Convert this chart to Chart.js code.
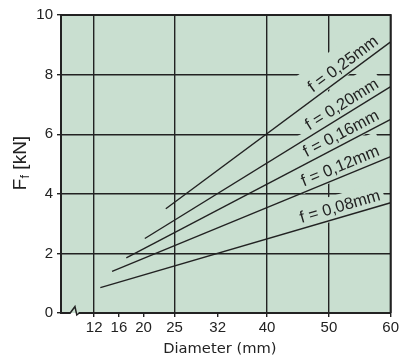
<!DOCTYPE html>
<html><head><meta charset="utf-8">
<script src="https://cdn.jsdelivr.net/npm/chart.js@4"></script>
<style>html,body{margin:0;padding:0;background:#fff}#wrap{width:401px;height:358px}</style>
</head><body><div id="wrap"><canvas id="c" width="401" height="358"></canvas></div>
<script>
// ---- data ----
const feedLabels = ['f = 0,25mm', 'f = 0,20mm', 'f = 0,16mm', 'f = 0,12mm', 'f = 0,08mm'];
const diameterStart = [23.6, 20.2, 17.2, 14.9, 13.0];
const forceStart = [3.5, 2.5, 1.85, 1.4, 0.85];
const diameterEnd = [60, 60, 60, 60, 60];
const forceEnd = [9.1, 7.6, 6.5, 5.25, 3.7];
const xTickValues = [12, 16, 20, 25, 32, 40, 50, 60];
const xGridValues = [12, 25, 40, 50, 60];
const yTickValues = [0, 2, 4, 6, 8, 10];
const xAxisTitle = 'Diameter (mm)';
const xMin = 6.63, xMax = 60;
const labelAtDiameter = 58.7;
const breakFrom = 8.2, breakTo = 9.5;

const PLOT_BG = '#c9dfd0';
const INK = '#222222';
const maskTopPad = [11, 11, 11, 11, 5.5];

const datasets = feedLabels.map((lab, i) => ({
  label: lab,
  data: [{x: diameterStart[i], y: forceStart[i]}, {x: diameterEnd[i], y: forceEnd[i]}],
  borderColor: INK, borderWidth: 1.4, pointRadius: 0, fill: false, tension: 0
}));

function labelGeom(chart, i) {
  const xs = chart.scales.x, ys = chart.scales.y;
  const x0 = xs.getPixelForValue(diameterStart[i]), y0 = ys.getPixelForValue(forceStart[i]);
  const x1 = xs.getPixelForValue(diameterEnd[i]), y1 = ys.getPixelForValue(forceEnd[i]);
  const ang = Math.atan2(y1 - y0, x1 - x0);
  const ax = xs.getPixelForValue(labelAtDiameter);
  const ay = y0 + (ax - x0) * (y1 - y0) / (x1 - x0);
  return {ax, ay, ang};
}
const LABEL_FONT = '16.5px "Liberation Sans", Arial, sans-serif';
const LABEL_OFF = 5.5;

const plotPlugin = {
  id: 'plotDeco',
  beforeDraw(chart) {
    const {ctx, chartArea: a} = chart;
    ctx.save();
    ctx.fillStyle = PLOT_BG;
    ctx.fillRect(a.left, a.top, a.right - a.left, a.bottom - a.top);
    ctx.restore();
  },
  beforeDatasetsDraw(chart) {
    const ctx = chart.ctx;
    ctx.save();
    ctx.font = LABEL_FONT;
    feedLabels.forEach((t, i) => {
      const g = labelGeom(chart, i);
      const w = ctx.measureText(t).width;
      ctx.save();
      ctx.translate(g.ax, g.ay);
      ctx.rotate(g.ang);
      ctx.fillStyle = PLOT_BG;
      const top = -LABEL_OFF - 12 - maskTopPad[i];
      ctx.fillRect(-w - 3, top, w + 7, 1.5 - top);
      ctx.restore();
    });
    ctx.restore();
  },
  afterDatasetsDraw(chart) {
    const ctx = chart.ctx;
    ctx.save();
    ctx.font = LABEL_FONT;
    ctx.fillStyle = INK;
    ctx.textAlign = 'right';
    ctx.textBaseline = 'alphabetic';
    feedLabels.forEach((t, i) => {
      const g = labelGeom(chart, i);
      ctx.save();
      ctx.translate(g.ax, g.ay);
      ctx.rotate(g.ang);
      ctx.fillText(t, 0, -LABEL_OFF);
      ctx.restore();
    });
    ctx.restore();
  },
  afterDraw(chart) {
    const {ctx, chartArea: a} = chart;
    ctx.save();
    // top & right frame
    ctx.strokeStyle = INK;
    ctx.lineWidth = 2;
    ctx.beginPath();
    ctx.moveTo(a.left, a.top); ctx.lineTo(a.right, a.top); ctx.lineTo(a.right, a.bottom);
    ctx.stroke();
    // axis break
    const xs = chart.scales.x;
    const b0 = xs.getPixelForValue(breakFrom), b1 = xs.getPixelForValue(breakTo);
    const yb = a.bottom;
    ctx.fillStyle = PLOT_BG;
    ctx.fillRect(b0, yb - 1.6, b1 - b0, 1.6);
    ctx.fillStyle = '#fff';
    ctx.fillRect(b0, yb, b1 - b0, 1.6);
    const w = b1 - b0;
    ctx.lineWidth = 1.5;
    ctx.lineJoin = 'miter';
    ctx.beginPath();
    ctx.moveTo(b0 - 0.5, yb);
    ctx.lineTo(b0 + 0.53 * w, yb - 6.5);
    ctx.lineTo(b0 + 0.76 * w, yb + 2);
    ctx.lineTo(b1 + 0.5, yb);
    ctx.stroke();
    // x-axis title
    ctx.fillStyle = INK;
    ctx.font = '14.7px "DejaVu Sans", sans-serif';
    ctx.textAlign = 'center';
    ctx.textBaseline = 'alphabetic';
    ctx.fillText(xAxisTitle, (a.left + a.right) / 2 - 6, a.bottom + 40);
    // y-axis title with subscript
    const cy = (a.top + a.bottom) / 2 - 1;
    ctx.translate(20, cy);
    ctx.rotate(-Math.PI / 2);
    ctx.textAlign = 'left';
    const bigF = '19px "Liberation Sans", Arial, sans-serif';
    const subF = '13px "Liberation Sans", Arial, sans-serif';
    ctx.font = bigF; const wF = ctx.measureText('F').width; const wK = ctx.measureText(' [kN]').width;
    ctx.font = subF; const wS = ctx.measureText('f').width;
    let x = -(wF + wS + wK) / 2;
    const base = 5.5;
    ctx.font = bigF; ctx.fillText('F', x, base); x += wF;
    ctx.font = subF; ctx.fillText('f', x, base + 3.5); x += wS;
    ctx.font = bigF; ctx.fillText(' [kN]', x, base);
    ctx.restore();
  }
};

new Chart(document.getElementById('c'), {
  type: 'line',
  data: {datasets},
  plugins: [plotPlugin],
  options: {
    responsive: false,
    animation: false,
    devicePixelRatio: 1,
    layout: {padding: {top: 15, right: 10, left: 0, bottom: 0}},
    plugins: {legend: {display: false}, tooltip: {enabled: false}},
    scales: {
      x: {
        type: 'linear', min: xMin, max: xMax,
        afterBuildTicks: s => { s.ticks = xTickValues.map(v => ({value: v})); },
        afterFit: s => { s.height = 45; },
        ticks: {
          autoSkip: false, maxRotation: 0, padding: 2, color: INK,
          font: {family: '"Liberation Sans", Arial, sans-serif', size: 15},
          callback: v => String(v)
        },
        grid: {
          color: c => (c.tick && xGridValues.includes(c.tick.value)) ? INK : 'rgba(0,0,0,0)',
          lineWidth: 1.4, tickColor: INK, tickLength: 4
        },
        border: {color: INK, width: 2},
        title: {display: false}
      },
      y: {
        min: 0, max: 10,
        afterBuildTicks: s => { s.ticks = yTickValues.map(v => ({value: v})); },
        afterFit: s => { s.width = 61; },
        ticks: {
          padding: 4, color: INK,
          font: {family: '"Liberation Sans", Arial, sans-serif', size: 15},
          callback: v => String(v)
        },
        grid: {color: INK, lineWidth: 1.4, tickColor: INK, tickLength: 4},
        border: {color: INK, width: 2}
      }
    }
  }
});
</script>
</body></html>
